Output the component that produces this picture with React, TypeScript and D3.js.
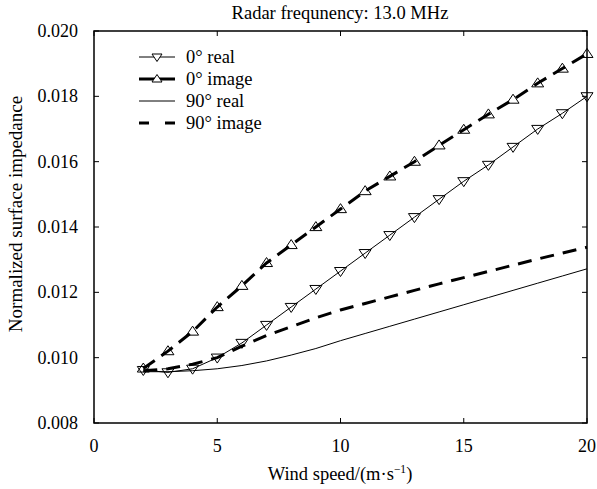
import React from "react";
import * as d3 from "d3";

const windSpeeds = [2, 3, 4, 5, 6, 7, 8, 9, 10, 11, 12, 13, 14, 15, 16, 17, 18, 19, 20];
const real0 = [0.00962, 0.00955, 0.00966, 0.0100, 0.01045, 0.0110, 0.01155, 0.0121, 0.01265, 0.0132, 0.01375, 0.0143, 0.01485, 0.0154, 0.0159, 0.01645, 0.0170, 0.01748, 0.0180];
const image0 = [0.00967, 0.0102, 0.0108, 0.01155, 0.0122, 0.0129, 0.01345, 0.0140, 0.01455, 0.0151, 0.01555, 0.0160, 0.0165, 0.01698, 0.01745, 0.0179, 0.0184, 0.01885, 0.0193];
const real90 = [0.00957, 0.00957, 0.0096, 0.00966, 0.00976, 0.0099, 0.01008, 0.01028, 0.01052, 0.01074, 0.01096, 0.01118, 0.0114, 0.01162, 0.01184, 0.01206, 0.01228, 0.0125, 0.01272];
const image90 = [0.0096, 0.00966, 0.0098, 0.0100, 0.01035, 0.01068, 0.01095, 0.01122, 0.01146, 0.01166, 0.01186, 0.01206, 0.01226, 0.01245, 0.01264, 0.01283, 0.01302, 0.0132, 0.01338];
const xTicks = [0, 5, 10, 15, 20];
const yTicks = [0.008, 0.010, 0.012, 0.014, 0.016, 0.018, 0.020];
const legendLabels = ["0° real", "0° image", "90° real", "90° image"];

const W = 597, H = 489;
const L = 94, R = 587, T = 31, B = 423;
const font = "Liberation Serif, DejaVu Serif, serif";

export default function App() {
  const x = d3.scaleLinear().domain([0, 20]).range([L, R]);
  const y = d3.scaleLinear().domain([0.008, 0.020]).range([B, T]);
  const line = (vals: number[]) =>
    d3.line<number>().x((_, i) => x(windSpeeds[i])).y((v) => y(v))(vals) || "";
  const tri = (cx: number, cy: number, down: boolean, s = 6) =>
    down
      ? `M${cx - s},${cy - s * 0.6}L${cx + s},${cy - s * 0.6}L${cx},${cy + s * 0.9}Z`
      : `M${cx - s},${cy + s * 0.6}L${cx + s},${cy + s * 0.6}L${cx},${cy - s * 0.9}Z`;
  const series = [
    { vals: real0, width: 1, dash: "", marker: "down" },
    { vals: image0, width: 3, dash: "14,8", marker: "up" },
    { vals: real90, width: 1, dash: "", marker: "" },
    { vals: image90, width: 3, dash: "14,9", marker: "" },
  ];
  const tf = { fontFamily: font };
  return (
    <svg width={W} height={H} style={{ position: "absolute", left: 0, top: 0, background: "#fff" }}>
      <rect x={0} y={0} width={W} height={H} fill="#fff" />
      <text x={340} y={19} textAnchor="middle" style={tf} fontSize={18.5}>
        Radar frequnency: 13.0 MHz
      </text>
      {series.map((s, i) => (
        <path key={i} d={line(s.vals)} fill="none" stroke="#000" strokeWidth={s.width} strokeDasharray={s.dash || undefined} />
      ))}
      {series.map((s, i) =>
        s.marker
          ? s.vals.map((v, j) => (
              <path key={`${i}-${j}`} d={tri(x(windSpeeds[j]), y(v), s.marker === "down")} fill="none" stroke="#000" strokeWidth={1} />
            ))
          : null
      )}
      <rect x={L} y={T} width={R - L} height={B - T} fill="none" stroke="#000" strokeWidth={1.5} />
      {xTicks.map((t) => (
        <g key={t}>
          <line x1={x(t)} x2={x(t)} y1={B} y2={B - 5} stroke="#000" />
          <line x1={x(t)} x2={x(t)} y1={T} y2={T + 5} stroke="#000" />
          <text x={x(t)} y={B + 29} textAnchor="middle" style={tf} fontSize={18}>{t}</text>
        </g>
      ))}
      {yTicks.map((t) => (
        <g key={t}>
          <line x1={L} x2={L + 5} y1={y(t)} y2={y(t)} stroke="#000" />
          <line x1={R} x2={R - 5} y1={y(t)} y2={y(t)} stroke="#000" />
          <text x={L - 16} y={y(t) + 6} textAnchor="end" style={tf} fontSize={18}>{t.toFixed(3)}</text>
        </g>
      ))}
      <text x={340} y={480} textAnchor="middle" style={tf} fontSize={18.5}>
        Wind speed/(m·s<tspan dy={-7} fontSize={11.5}>−1</tspan><tspan dy={7}>)</tspan>
      </text>
      <text transform="translate(22,214) rotate(-90)" textAnchor="middle" style={tf} fontSize={19}>
        Normalized surface impedance
      </text>
      {legendLabels.map((lab, i) => {
        const ly = 57 + i * 22;
        const s = series[i];
        return (
          <g key={lab}>
            {i === 3 ? (
              <line x1={139} x2={175} y1={ly} y2={ly} stroke="#000" strokeWidth={3} strokeDasharray="10,16" />
            ) : (
              <line x1={139} x2={175} y1={ly} y2={ly} stroke="#000" strokeWidth={s.width === 3 ? 3 : 1} />
            )}
            {s.marker ? <path d={tri(157, ly, s.marker === "down", 5)} fill="#fff" stroke="#000" /> : null}
            <text x={186} y={ly + 6} style={tf} fontSize={18.5}>{lab}</text>
          </g>
        );
      })}
    </svg>
  );
}
